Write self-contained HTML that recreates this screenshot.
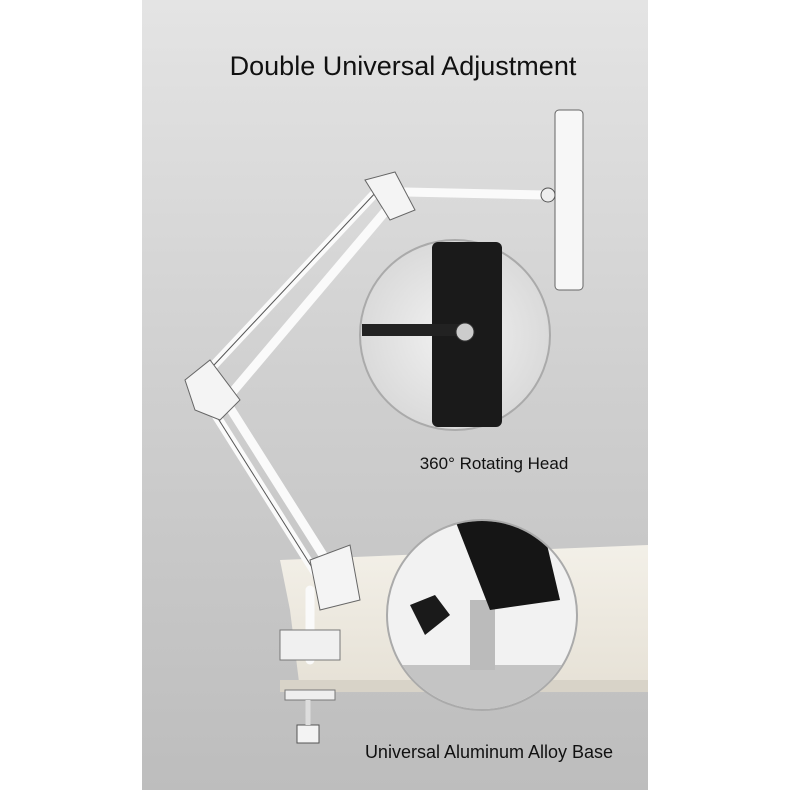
<!DOCTYPE html>
<html><head><style>
html,body{margin:0;padding:0;background:#fff;}
#c{position:relative;width:790px;height:790px;overflow:hidden;background:#fff;}
</style></head><body><div id="c">
<svg width="790" height="790" viewBox="0 0 790 790" xmlns="http://www.w3.org/2000/svg">
<defs>
<linearGradient id="wall" x1="0" y1="0" x2="0" y2="1">
<stop offset="0" stop-color="#e4e4e4"/><stop offset="0.5" stop-color="#cfcfcf"/><stop offset="1" stop-color="#bdbdbd"/>
</linearGradient>
<linearGradient id="tbl" x1="0" y1="0" x2="0" y2="1">
<stop offset="0" stop-color="#f3f0e8"/><stop offset="1" stop-color="#e6e1d6"/>
</linearGradient>
<radialGradient id="c1" cx="0.5" cy="0.5" r="0.5">
<stop offset="0" stop-color="#f2f2f2"/><stop offset="1" stop-color="#dadada"/>
</radialGradient>
<clipPath id="cp2"><circle cx="482" cy="615" r="94"/></clipPath>
</defs>
<rect x="142" y="0" width="506" height="790" fill="url(#wall)"/>
<polygon points="280,560 648,545 648,690 300,690 290,610" fill="url(#tbl)"/>
<rect x="280" y="680" width="368" height="12" fill="#d8d3c8"/>
<g stroke="#fafafa" stroke-width="9" fill="none" stroke-linecap="round">
<line x1="378" y1="190" x2="200" y2="380"/>
<line x1="395" y1="200" x2="230" y2="395"/>
<line x1="200" y1="390" x2="320" y2="580"/>
<line x1="225" y1="400" x2="345" y2="590"/>
<line x1="405" y1="192" x2="545" y2="195"/>
<line x1="310" y1="590" x2="310" y2="660"/>
</g>
<g stroke="#555" stroke-width="1" fill="none">
<line x1="378" y1="190" x2="200" y2="380"/>
<line x1="200" y1="390" x2="320" y2="580"/>
</g>
<polygon points="365,180 395,172 415,210 390,220" fill="#f4f4f4" stroke="#666"/>
<polygon points="185,380 210,360 240,400 220,420 195,410" fill="#f4f4f4" stroke="#666"/>
<polygon points="310,560 350,545 360,600 320,610" fill="#f4f4f4" stroke="#666"/>
<rect x="280" y="630" width="60" height="30" fill="#f0f0f0" stroke="#777"/>
<rect x="285" y="690" width="50" height="10" fill="#eee" stroke="#777"/>
<rect x="297" y="725" width="22" height="18" fill="#f3f3f3" stroke="#555"/>
<line x1="308" y1="700" x2="308" y2="725" stroke="#ddd" stroke-width="5"/>
<rect x="555" y="110" width="28" height="180" rx="4" fill="#f7f7f7" stroke="#666"/>
<circle cx="548" cy="195" r="7" fill="#eee" stroke="#555"/>
<circle cx="455" cy="335" r="95" fill="url(#c1)" stroke="#aaa" stroke-width="2"/>
<rect x="432" y="242" width="70" height="185" rx="6" fill="#1a1a1a"/>
<line x1="362" y1="330" x2="460" y2="330" stroke="#222" stroke-width="12"/>
<circle cx="465" cy="332" r="9" fill="#ccc" stroke="#333"/>
<circle cx="482" cy="615" r="95" fill="#f2f2f2" stroke="#aaa" stroke-width="2"/>
<g clip-path="url(#cp2)">
<rect x="390" y="665" width="190" height="50" fill="#c4c4c4"/>
<rect x="470" y="600" width="25" height="70" fill="#bbb"/>
<polygon points="455,520 540,515 560,600 490,610" fill="#151515"/>
<polygon points="410,605 435,595 450,615 425,635" fill="#1a1a1a"/>
</g>
<text x="403" y="75" text-anchor="middle" font-family="Liberation Sans, sans-serif" font-size="27" fill="#111">Double Universal Adjustment</text>
<text x="494" y="469" text-anchor="middle" font-family="Liberation Sans, sans-serif" font-size="17" fill="#111">360° Rotating Head</text>
<text x="489" y="758" text-anchor="middle" font-family="Liberation Sans, sans-serif" font-size="18" fill="#111">Universal Aluminum Alloy Base</text>
</svg>
</div></body></html>
